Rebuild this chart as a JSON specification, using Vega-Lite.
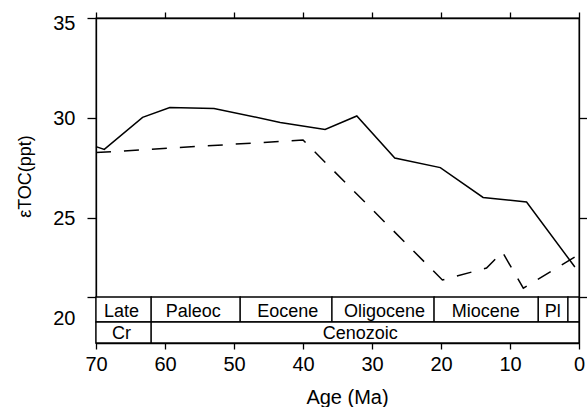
{
  "$schema": "https://vega.github.io/schema/vega-lite/v6.json",
  "width": 483,
  "height": 325,
  "autosize": {"type": "none"},
  "padding": {"left": 96, "top": 18, "right": 8, "bottom": 64},
  "background": "white",
  "config": {
    "font": "Liberation Sans",
    "view": {"stroke": "black", "strokeWidth": 1.3},
    "axis": {
      "domainColor": "black", "tickColor": "black", "labelColor": "black", "titleColor": "black",
      "grid": false, "labelFont": "Liberation Sans", "titleFont": "Liberation Sans",
      "labelFontSize": 20, "titleFontSize": 20, "titleFontWeight": "normal",
      "domainWidth": 1.3, "tickWidth": 1.3, "labelOverlap": false, "labelFlush": false
    },
    "text": {"font": "Liberation Sans"}
  },
  "datasets": {
    "toc": [
      {"series": "solid", "age": 70, "eps": 28.57},
      {"series": "solid", "age": 68.8, "eps": 28.43},
      {"series": "solid", "age": 63.25, "eps": 30.03},
      {"series": "solid", "age": 59.3, "eps": 30.52},
      {"series": "solid", "age": 52.9, "eps": 30.48},
      {"series": "solid", "age": 43.3, "eps": 29.78},
      {"series": "solid", "age": 36.8, "eps": 29.43},
      {"series": "solid", "age": 32.2, "eps": 30.1},
      {"series": "solid", "age": 26.7, "eps": 28.0},
      {"series": "solid", "age": 20.1, "eps": 27.52},
      {"series": "solid", "age": 13.9, "eps": 26.03},
      {"series": "solid", "age": 7.6, "eps": 25.8},
      {"series": "solid", "age": 0.6, "eps": 22.55},
      {"series": "dashed", "age": 70, "eps": 28.27},
      {"series": "dashed", "age": 40.0, "eps": 28.9},
      {"series": "dashed", "age": 19.8, "eps": 21.9},
      {"series": "dashed", "age": 13.4, "eps": 22.5},
      {"series": "dashed", "age": 11.1, "eps": 23.3},
      {"series": "dashed", "age": 8.07, "eps": 21.49},
      {"series": "dashed", "age": 0.6, "eps": 23.05}
    ],
    "epochs": [
      {"epoch": "Late", "start": 70, "end": 62, "mid": 66.3},
      {"epoch": "Paleoc", "start": 62, "end": 49.1, "mid": 55.9},
      {"epoch": "Eocene", "start": 49.1, "end": 35.8, "mid": 42.2},
      {"epoch": "Oligocene", "start": 35.8, "end": 21, "mid": 28.2},
      {"epoch": "Miocene", "start": 21, "end": 5.9, "mid": 13.5},
      {"epoch": "Pl", "start": 5.9, "end": 1.6, "mid": 3.8},
      {"epoch": "", "start": 1.6, "end": 0, "mid": 0.8}
    ],
    "eras": [
      {"era": "Cr", "start": 70, "end": 62, "mid": 66.3},
      {"era": "Cenozoic", "start": 62, "end": 0, "mid": 31.7}
    ]
  },
  "layer": [
    {
      "data": {"name": "toc"},
      "transform": [{"filter": "datum.series == 'solid'"}],
      "mark": {"type": "line", "color": "black", "strokeWidth": 1.5},
      "encoding": {
        "x": {
          "field": "age", "type": "quantitative",
          "scale": {"domain": [0, 70], "reverse": true, "nice": false, "zero": false},
          "axis": {
            "orient": "bottom", "values": [0, 10, 20, 30, 40, 50, 60, 70],
            "title": "Age (Ma)", "tickSize": 6, "labelPadding": 5,
            "titleX": 251, "titleY": 60, "titleBaseline": "alphabetic"
          }
        },
        "y": {
          "field": "eps", "type": "quantitative",
          "scale": {"domain": [18.75, 35], "nice": false, "zero": false},
          "axis": {
            "orient": "left", "values": [35, 30, 25, 21.05, 20],
            "labelExpr": "datum.value == 21.05 ? '' : datum.label",
            "tickOpacity": {"condition": {"test": "datum.value == 20", "value": 0}, "value": 1},
            "labelOffset": {"condition": {"test": "datum.value == 35", "value": 5}, "value": 0},
            "tickSize": 9, "labelPadding": 12,
            "title": "εTOC(ppt)", "titleFontSize": 18,
            "titleX": -71, "titleY": 158, "titleBaseline": "middle", "titleAngle": 270
          }
        }
      }
    },
    {
      "data": {"name": "toc"},
      "transform": [{"filter": "datum.series == 'dashed'"}],
      "mark": {"type": "line", "color": "black", "strokeWidth": 1.5, "strokeDash": [15, 13]},
      "encoding": {
        "x": {
          "field": "age", "type": "quantitative",
          "axis": {"orient": "top", "values": [0, 10, 20, 30, 40, 50, 60, 70], "labels": false, "title": null, "tickSize": 6}
        },
        "y": {
          "field": "eps", "type": "quantitative",
          "axis": {"orient": "right", "values": [30, 25, 21.05], "labels": false, "title": null, "tickSize": 8}
        }
      }
    },
    {
      "data": {"name": "epochs"},
      "mark": {"type": "rect", "fill": "white", "stroke": "black", "strokeWidth": 1.3},
      "encoding": {
        "x": {"field": "start", "type": "quantitative", "axis": null},
        "x2": {"field": "end"},
        "y": {"datum": 21.05, "type": "quantitative", "axis": null},
        "y2": {"datum": 19.8}
      }
    },
    {
      "data": {"name": "eras"},
      "mark": {"type": "rect", "fill": "white", "stroke": "black", "strokeWidth": 1.3},
      "encoding": {
        "x": {"field": "start", "type": "quantitative", "axis": null},
        "x2": {"field": "end"},
        "y": {"datum": 19.8, "type": "quantitative", "axis": null},
        "y2": {"datum": 18.75}
      }
    },
    {
      "data": {"name": "epochs"},
      "mark": {"type": "text", "fontSize": 18, "color": "black", "baseline": "middle", "align": "center"},
      "encoding": {
        "x": {"field": "mid", "type": "quantitative", "axis": null},
        "y": {"datum": 20.325, "type": "quantitative", "axis": null},
        "text": {"field": "epoch"}
      }
    },
    {
      "data": {"name": "eras"},
      "mark": {"type": "text", "fontSize": 18, "color": "black", "baseline": "middle", "align": "center"},
      "encoding": {
        "x": {"field": "mid", "type": "quantitative", "axis": null},
        "y": {"datum": 19.2, "type": "quantitative", "axis": null},
        "text": {"field": "era"}
      }
    }
  ],
  "resolve": {"axis": {"x": "independent", "y": "independent"}}
}
